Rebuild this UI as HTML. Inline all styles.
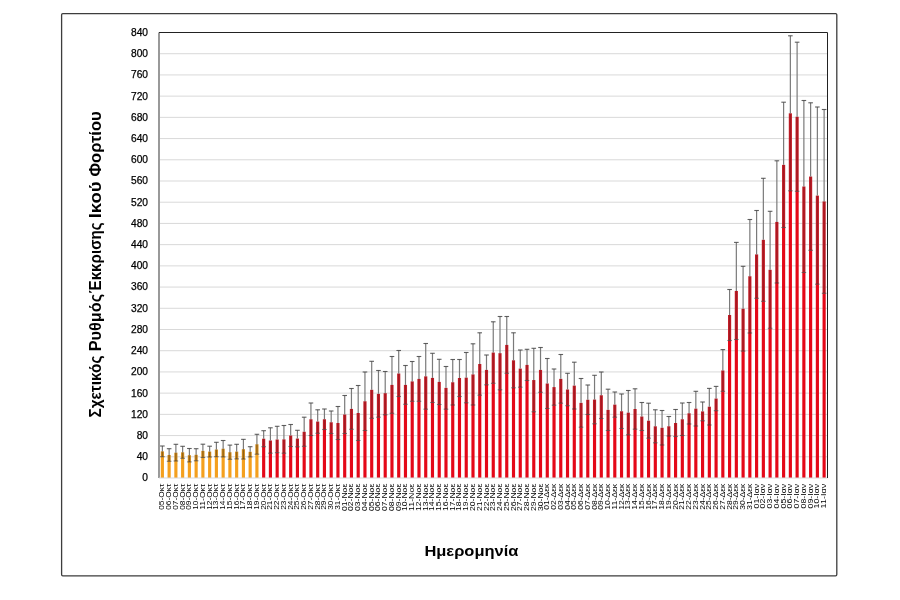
<!DOCTYPE html>
<html><head><meta charset="utf-8"><title>Chart</title><style>
html,body{margin:0;padding:0;background:#fff;}
body{width:900px;height:600px;position:relative;overflow:hidden;}
.yt{font-family:"Liberation Sans",sans-serif;font-size:10.2px;fill:#000;stroke:#000;stroke-width:0.25px;text-anchor:end;}
.xt{font-family:"Liberation Sans",sans-serif;font-size:7.6px;fill:#000;text-anchor:end;}
.tw{font-family:"Liberation Sans",sans-serif;font-size:16px;font-weight:bold;fill:#000;}
.tt{font-family:"Liberation Sans",sans-serif;font-size:15px;font-weight:bold;fill:#000;text-anchor:middle;}
.el{stroke:#7a7a7a;stroke-width:1.2;}
.ei{stroke:#000;stroke-opacity:0.3;stroke-width:1.2;}
.er{stroke:#000;stroke-opacity:0.16;stroke-width:1.2;}
.ec{stroke:#444;stroke-opacity:0.85;stroke-width:1.1;}
.eb{stroke:#333;stroke-opacity:0.6;stroke-width:1.1;}
</style></head><body>
<svg width="900" height="600" viewBox="0 0 900 600" style="position:absolute;left:0;top:0;will-change:transform">
<rect x="0" y="0" width="900" height="600" fill="#fff"/>
<rect x="61.6" y="13.6" width="775.2" height="562.2" rx="1.2" fill="none" stroke="#3d3d3d" stroke-width="1.3"/>
<line x1="160" x2="827.50" y1="456.79" y2="456.79" stroke="#d9d9d9" stroke-width="1"/>
<line x1="160" x2="827.50" y1="435.57" y2="435.57" stroke="#d9d9d9" stroke-width="1"/>
<line x1="160" x2="827.50" y1="414.36" y2="414.36" stroke="#d9d9d9" stroke-width="1"/>
<line x1="160" x2="827.50" y1="393.14" y2="393.14" stroke="#d9d9d9" stroke-width="1"/>
<line x1="160" x2="827.50" y1="371.93" y2="371.93" stroke="#d9d9d9" stroke-width="1"/>
<line x1="160" x2="827.50" y1="350.71" y2="350.71" stroke="#d9d9d9" stroke-width="1"/>
<line x1="160" x2="827.50" y1="329.50" y2="329.50" stroke="#d9d9d9" stroke-width="1"/>
<line x1="160" x2="827.50" y1="308.29" y2="308.29" stroke="#d9d9d9" stroke-width="1"/>
<line x1="160" x2="827.50" y1="287.07" y2="287.07" stroke="#d9d9d9" stroke-width="1"/>
<line x1="160" x2="827.50" y1="265.86" y2="265.86" stroke="#d9d9d9" stroke-width="1"/>
<line x1="160" x2="827.50" y1="244.64" y2="244.64" stroke="#d9d9d9" stroke-width="1"/>
<line x1="160" x2="827.50" y1="223.43" y2="223.43" stroke="#d9d9d9" stroke-width="1"/>
<line x1="160" x2="827.50" y1="202.21" y2="202.21" stroke="#d9d9d9" stroke-width="1"/>
<line x1="160" x2="827.50" y1="181.00" y2="181.00" stroke="#d9d9d9" stroke-width="1"/>
<line x1="160" x2="827.50" y1="159.79" y2="159.79" stroke="#d9d9d9" stroke-width="1"/>
<line x1="160" x2="827.50" y1="138.57" y2="138.57" stroke="#d9d9d9" stroke-width="1"/>
<line x1="160" x2="827.50" y1="117.36" y2="117.36" stroke="#d9d9d9" stroke-width="1"/>
<line x1="160" x2="827.50" y1="96.14" y2="96.14" stroke="#d9d9d9" stroke-width="1"/>
<line x1="160" x2="827.50" y1="74.93" y2="74.93" stroke="#d9d9d9" stroke-width="1"/>
<line x1="160" x2="827.50" y1="53.71" y2="53.71" stroke="#d9d9d9" stroke-width="1"/>
<text x="148" y="481.40" class="yt">0</text>
<text x="148" y="460.19" class="yt">40</text>
<text x="148" y="438.97" class="yt">80</text>
<text x="148" y="417.76" class="yt">120</text>
<text x="148" y="396.54" class="yt">160</text>
<text x="148" y="375.33" class="yt">200</text>
<text x="148" y="354.11" class="yt">240</text>
<text x="148" y="332.90" class="yt">280</text>
<text x="148" y="311.69" class="yt">320</text>
<text x="148" y="290.47" class="yt">360</text>
<text x="148" y="269.26" class="yt">400</text>
<text x="148" y="248.04" class="yt">440</text>
<text x="148" y="226.83" class="yt">480</text>
<text x="148" y="205.61" class="yt">520</text>
<text x="148" y="184.40" class="yt">560</text>
<text x="148" y="163.19" class="yt">600</text>
<text x="148" y="141.97" class="yt">640</text>
<text x="148" y="120.76" class="yt">680</text>
<text x="148" y="99.54" class="yt">720</text>
<text x="148" y="78.33" class="yt">760</text>
<text x="148" y="57.11" class="yt">800</text>
<text x="148" y="35.90" class="yt">840</text>
<rect x="160.80" y="456.70" width="3.15" height="21.30" fill="#F4A01E"/>
<rect x="160.80" y="451.35" width="3.15" height="5.35" fill="#D08A1C"/>
<rect x="167.55" y="461.30" width="3.15" height="16.70" fill="#F4A01E"/>
<rect x="167.55" y="455.00" width="3.15" height="6.30" fill="#D08A1C"/>
<rect x="174.31" y="461.00" width="3.15" height="17.00" fill="#F4A01E"/>
<rect x="174.31" y="452.65" width="3.15" height="8.35" fill="#D08A1C"/>
<rect x="181.06" y="458.30" width="3.15" height="19.70" fill="#F4A01E"/>
<rect x="181.06" y="452.30" width="3.15" height="6.00" fill="#D08A1C"/>
<rect x="187.81" y="461.90" width="3.15" height="16.10" fill="#F4A01E"/>
<rect x="187.81" y="455.20" width="3.15" height="6.70" fill="#D08A1C"/>
<rect x="194.56" y="460.80" width="3.15" height="17.20" fill="#F4A01E"/>
<rect x="194.56" y="454.75" width="3.15" height="6.05" fill="#D08A1C"/>
<rect x="201.32" y="457.50" width="3.15" height="20.50" fill="#F4A01E"/>
<rect x="201.32" y="450.85" width="3.15" height="6.65" fill="#D08A1C"/>
<rect x="208.07" y="457.00" width="3.15" height="21.00" fill="#F4A01E"/>
<rect x="208.07" y="451.60" width="3.15" height="5.40" fill="#D08A1C"/>
<rect x="214.82" y="456.70" width="3.15" height="21.30" fill="#F4A01E"/>
<rect x="214.82" y="449.50" width="3.15" height="7.20" fill="#D08A1C"/>
<rect x="221.57" y="456.90" width="3.15" height="21.10" fill="#F4A01E"/>
<rect x="221.57" y="448.70" width="3.15" height="8.20" fill="#D08A1C"/>
<rect x="228.33" y="459.30" width="3.15" height="18.70" fill="#F4A01E"/>
<rect x="228.33" y="452.20" width="3.15" height="7.10" fill="#D08A1C"/>
<rect x="235.08" y="458.90" width="3.15" height="19.10" fill="#F4A01E"/>
<rect x="235.08" y="451.60" width="3.15" height="7.30" fill="#D08A1C"/>
<rect x="241.83" y="459.05" width="3.15" height="18.95" fill="#F4A01E"/>
<rect x="241.83" y="449.20" width="3.15" height="9.85" fill="#D08A1C"/>
<rect x="248.58" y="456.90" width="3.15" height="21.10" fill="#F4A01E"/>
<rect x="248.58" y="451.80" width="3.15" height="5.10" fill="#D08A1C"/>
<rect x="255.34" y="454.20" width="3.15" height="23.80" fill="#F4A01E"/>
<rect x="255.34" y="444.25" width="3.15" height="9.95" fill="#D08A1C"/>
<rect x="262.09" y="446.70" width="3.15" height="31.30" fill="#E40818"/>
<rect x="262.09" y="438.70" width="3.15" height="8.00" fill="#C21D27"/>
<rect x="268.84" y="453.20" width="3.15" height="24.80" fill="#E40818"/>
<rect x="268.84" y="440.50" width="3.15" height="12.70" fill="#C21D27"/>
<rect x="275.59" y="452.70" width="3.15" height="25.30" fill="#E40818"/>
<rect x="275.59" y="439.50" width="3.15" height="13.20" fill="#C21D27"/>
<rect x="282.35" y="453.20" width="3.15" height="24.80" fill="#E40818"/>
<rect x="282.35" y="439.35" width="3.15" height="13.85" fill="#C21D27"/>
<rect x="289.10" y="446.50" width="3.15" height="31.50" fill="#E40818"/>
<rect x="289.10" y="435.50" width="3.15" height="11.00" fill="#C21D27"/>
<rect x="295.85" y="446.80" width="3.15" height="31.20" fill="#E40818"/>
<rect x="295.85" y="438.55" width="3.15" height="8.25" fill="#C21D27"/>
<rect x="302.60" y="446.30" width="3.15" height="31.70" fill="#E40818"/>
<rect x="302.60" y="431.75" width="3.15" height="14.55" fill="#C21D27"/>
<rect x="309.36" y="435.50" width="3.15" height="42.50" fill="#E40818"/>
<rect x="309.36" y="419.25" width="3.15" height="16.25" fill="#C21D27"/>
<rect x="316.11" y="433.30" width="3.15" height="44.70" fill="#E40818"/>
<rect x="316.11" y="421.55" width="3.15" height="11.75" fill="#C21D27"/>
<rect x="322.86" y="429.50" width="3.15" height="48.50" fill="#E40818"/>
<rect x="322.86" y="419.25" width="3.15" height="10.25" fill="#C21D27"/>
<rect x="329.61" y="433.50" width="3.15" height="44.50" fill="#E40818"/>
<rect x="329.61" y="422.25" width="3.15" height="11.25" fill="#C21D27"/>
<rect x="336.37" y="439.50" width="3.15" height="38.50" fill="#E40818"/>
<rect x="336.37" y="423.00" width="3.15" height="16.50" fill="#C21D27"/>
<rect x="343.12" y="433.50" width="3.15" height="44.50" fill="#E40818"/>
<rect x="343.12" y="414.50" width="3.15" height="19.00" fill="#C21D27"/>
<rect x="349.87" y="429.30" width="3.15" height="48.70" fill="#E40818"/>
<rect x="349.87" y="408.90" width="3.15" height="20.40" fill="#C21D27"/>
<rect x="356.62" y="440.50" width="3.15" height="37.50" fill="#E40818"/>
<rect x="356.62" y="413.00" width="3.15" height="27.50" fill="#C21D27"/>
<rect x="363.38" y="430.50" width="3.15" height="47.50" fill="#E40818"/>
<rect x="363.38" y="401.25" width="3.15" height="29.25" fill="#C21D27"/>
<rect x="370.13" y="418.30" width="3.15" height="59.70" fill="#E40818"/>
<rect x="370.13" y="389.80" width="3.15" height="28.50" fill="#C21D27"/>
<rect x="376.88" y="417.20" width="3.15" height="60.80" fill="#E40818"/>
<rect x="376.88" y="393.85" width="3.15" height="23.35" fill="#C21D27"/>
<rect x="383.63" y="414.80" width="3.15" height="63.20" fill="#E40818"/>
<rect x="383.63" y="393.15" width="3.15" height="21.65" fill="#C21D27"/>
<rect x="390.39" y="413.30" width="3.15" height="64.70" fill="#E40818"/>
<rect x="390.39" y="384.90" width="3.15" height="28.40" fill="#C21D27"/>
<rect x="397.14" y="396.50" width="3.15" height="81.50" fill="#E40818"/>
<rect x="397.14" y="373.50" width="3.15" height="23.00" fill="#C21D27"/>
<rect x="403.89" y="404.30" width="3.15" height="73.70" fill="#E40818"/>
<rect x="403.89" y="384.90" width="3.15" height="19.40" fill="#C21D27"/>
<rect x="410.64" y="401.30" width="3.15" height="76.70" fill="#E40818"/>
<rect x="410.64" y="381.40" width="3.15" height="19.90" fill="#C21D27"/>
<rect x="417.40" y="401.30" width="3.15" height="76.70" fill="#E40818"/>
<rect x="417.40" y="378.90" width="3.15" height="22.40" fill="#C21D27"/>
<rect x="424.15" y="409.20" width="3.15" height="68.80" fill="#E40818"/>
<rect x="424.15" y="376.35" width="3.15" height="32.85" fill="#C21D27"/>
<rect x="430.90" y="402.50" width="3.15" height="75.50" fill="#E40818"/>
<rect x="430.90" y="377.90" width="3.15" height="24.60" fill="#C21D27"/>
<rect x="437.65" y="404.50" width="3.15" height="73.50" fill="#E40818"/>
<rect x="437.65" y="381.90" width="3.15" height="22.60" fill="#C21D27"/>
<rect x="444.41" y="409.20" width="3.15" height="68.80" fill="#E40818"/>
<rect x="444.41" y="387.85" width="3.15" height="21.35" fill="#C21D27"/>
<rect x="451.16" y="405.00" width="3.15" height="73.00" fill="#E40818"/>
<rect x="451.16" y="382.25" width="3.15" height="22.75" fill="#C21D27"/>
<rect x="457.91" y="396.50" width="3.15" height="81.50" fill="#E40818"/>
<rect x="457.91" y="378.00" width="3.15" height="18.50" fill="#C21D27"/>
<rect x="464.66" y="402.80" width="3.15" height="75.20" fill="#E40818"/>
<rect x="464.66" y="377.65" width="3.15" height="25.15" fill="#C21D27"/>
<rect x="471.42" y="405.00" width="3.15" height="73.00" fill="#E40818"/>
<rect x="471.42" y="374.40" width="3.15" height="30.60" fill="#C21D27"/>
<rect x="478.17" y="395.20" width="3.15" height="82.80" fill="#E40818"/>
<rect x="478.17" y="364.00" width="3.15" height="31.20" fill="#C21D27"/>
<rect x="484.92" y="384.80" width="3.15" height="93.20" fill="#E40818"/>
<rect x="484.92" y="369.90" width="3.15" height="14.90" fill="#C21D27"/>
<rect x="491.68" y="383.30" width="3.15" height="94.70" fill="#E40818"/>
<rect x="491.68" y="352.55" width="3.15" height="30.75" fill="#C21D27"/>
<rect x="498.43" y="389.80" width="3.15" height="88.20" fill="#E40818"/>
<rect x="498.43" y="353.15" width="3.15" height="36.65" fill="#C21D27"/>
<rect x="505.18" y="373.30" width="3.15" height="104.70" fill="#E40818"/>
<rect x="505.18" y="344.90" width="3.15" height="28.40" fill="#C21D27"/>
<rect x="511.93" y="387.80" width="3.15" height="90.20" fill="#E40818"/>
<rect x="511.93" y="360.30" width="3.15" height="27.50" fill="#C21D27"/>
<rect x="518.69" y="387.20" width="3.15" height="90.80" fill="#E40818"/>
<rect x="518.69" y="368.60" width="3.15" height="18.60" fill="#C21D27"/>
<rect x="525.44" y="380.50" width="3.15" height="97.50" fill="#E40818"/>
<rect x="525.44" y="364.90" width="3.15" height="15.60" fill="#C21D27"/>
<rect x="532.19" y="411.80" width="3.15" height="66.20" fill="#E40818"/>
<rect x="532.19" y="380.05" width="3.15" height="31.75" fill="#C21D27"/>
<rect x="538.94" y="392.30" width="3.15" height="85.70" fill="#E40818"/>
<rect x="538.94" y="369.90" width="3.15" height="22.40" fill="#C21D27"/>
<rect x="545.70" y="408.50" width="3.15" height="69.50" fill="#E40818"/>
<rect x="545.70" y="383.50" width="3.15" height="25.00" fill="#C21D27"/>
<rect x="552.45" y="405.20" width="3.15" height="72.80" fill="#E40818"/>
<rect x="552.45" y="387.10" width="3.15" height="18.10" fill="#C21D27"/>
<rect x="559.20" y="403.20" width="3.15" height="74.80" fill="#E40818"/>
<rect x="559.20" y="378.85" width="3.15" height="24.35" fill="#C21D27"/>
<rect x="565.95" y="405.70" width="3.15" height="72.30" fill="#E40818"/>
<rect x="565.95" y="389.50" width="3.15" height="16.20" fill="#C21D27"/>
<rect x="572.71" y="409.00" width="3.15" height="69.00" fill="#E40818"/>
<rect x="572.71" y="385.60" width="3.15" height="23.40" fill="#C21D27"/>
<rect x="579.46" y="427.20" width="3.15" height="50.80" fill="#E40818"/>
<rect x="579.46" y="402.85" width="3.15" height="24.35" fill="#C21D27"/>
<rect x="586.21" y="414.50" width="3.15" height="63.50" fill="#E40818"/>
<rect x="586.21" y="399.75" width="3.15" height="14.75" fill="#C21D27"/>
<rect x="592.96" y="423.80" width="3.15" height="54.20" fill="#E40818"/>
<rect x="592.96" y="399.55" width="3.15" height="24.25" fill="#C21D27"/>
<rect x="599.72" y="418.50" width="3.15" height="59.50" fill="#E40818"/>
<rect x="599.72" y="395.25" width="3.15" height="23.25" fill="#C21D27"/>
<rect x="606.47" y="430.50" width="3.15" height="47.50" fill="#E40818"/>
<rect x="606.47" y="409.85" width="3.15" height="20.65" fill="#C21D27"/>
<rect x="613.22" y="417.20" width="3.15" height="60.80" fill="#E40818"/>
<rect x="613.22" y="404.60" width="3.15" height="12.60" fill="#C21D27"/>
<rect x="619.97" y="428.50" width="3.15" height="49.50" fill="#E40818"/>
<rect x="619.97" y="411.25" width="3.15" height="17.25" fill="#C21D27"/>
<rect x="626.73" y="434.80" width="3.15" height="43.20" fill="#E40818"/>
<rect x="626.73" y="412.65" width="3.15" height="22.15" fill="#C21D27"/>
<rect x="633.48" y="429.20" width="3.15" height="48.80" fill="#E40818"/>
<rect x="633.48" y="409.00" width="3.15" height="20.20" fill="#C21D27"/>
<rect x="640.23" y="430.50" width="3.15" height="47.50" fill="#E40818"/>
<rect x="640.23" y="416.50" width="3.15" height="14.00" fill="#C21D27"/>
<rect x="646.98" y="438.20" width="3.15" height="39.80" fill="#E40818"/>
<rect x="646.98" y="420.70" width="3.15" height="17.50" fill="#C21D27"/>
<rect x="653.74" y="442.80" width="3.15" height="35.20" fill="#E40818"/>
<rect x="653.74" y="426.30" width="3.15" height="16.50" fill="#C21D27"/>
<rect x="660.49" y="445.00" width="3.15" height="33.00" fill="#E40818"/>
<rect x="660.49" y="427.75" width="3.15" height="17.25" fill="#C21D27"/>
<rect x="667.24" y="436.00" width="3.15" height="42.00" fill="#E40818"/>
<rect x="667.24" y="426.25" width="3.15" height="9.75" fill="#C21D27"/>
<rect x="673.99" y="436.50" width="3.15" height="41.50" fill="#E40818"/>
<rect x="673.99" y="423.00" width="3.15" height="13.50" fill="#C21D27"/>
<rect x="680.75" y="435.50" width="3.15" height="42.50" fill="#E40818"/>
<rect x="680.75" y="419.25" width="3.15" height="16.25" fill="#C21D27"/>
<rect x="687.50" y="424.00" width="3.15" height="54.00" fill="#E40818"/>
<rect x="687.50" y="413.25" width="3.15" height="10.75" fill="#C21D27"/>
<rect x="694.25" y="426.00" width="3.15" height="52.00" fill="#E40818"/>
<rect x="694.25" y="408.65" width="3.15" height="17.35" fill="#C21D27"/>
<rect x="701.00" y="420.80" width="3.15" height="57.20" fill="#E40818"/>
<rect x="701.00" y="411.40" width="3.15" height="9.40" fill="#C21D27"/>
<rect x="707.76" y="425.00" width="3.15" height="53.00" fill="#E40818"/>
<rect x="707.76" y="406.70" width="3.15" height="18.30" fill="#C21D27"/>
<rect x="714.51" y="410.70" width="3.15" height="67.30" fill="#E40818"/>
<rect x="714.51" y="398.55" width="3.15" height="12.15" fill="#C21D27"/>
<rect x="721.26" y="391.30" width="3.15" height="86.70" fill="#E40818"/>
<rect x="721.26" y="370.45" width="3.15" height="20.85" fill="#C21D27"/>
<rect x="728.01" y="340.50" width="3.15" height="137.50" fill="#E40818"/>
<rect x="728.01" y="315.00" width="3.15" height="25.50" fill="#C21D27"/>
<rect x="734.77" y="339.50" width="3.15" height="138.50" fill="#E40818"/>
<rect x="734.77" y="290.95" width="3.15" height="48.55" fill="#C21D27"/>
<rect x="741.52" y="351.10" width="3.15" height="126.90" fill="#E40818"/>
<rect x="741.52" y="308.70" width="3.15" height="42.40" fill="#C21D27"/>
<rect x="748.27" y="333.00" width="3.15" height="145.00" fill="#E40818"/>
<rect x="748.27" y="276.25" width="3.15" height="56.75" fill="#C21D27"/>
<rect x="755.02" y="298.30" width="3.15" height="179.70" fill="#E40818"/>
<rect x="755.02" y="254.40" width="3.15" height="43.90" fill="#C21D27"/>
<rect x="761.78" y="301.30" width="3.15" height="176.70" fill="#E40818"/>
<rect x="761.78" y="239.80" width="3.15" height="61.50" fill="#C21D27"/>
<rect x="768.53" y="328.30" width="3.15" height="149.70" fill="#E40818"/>
<rect x="768.53" y="269.80" width="3.15" height="58.50" fill="#C21D27"/>
<rect x="775.28" y="283.00" width="3.15" height="195.00" fill="#E40818"/>
<rect x="775.28" y="221.90" width="3.15" height="61.10" fill="#C21D27"/>
<rect x="782.03" y="227.50" width="3.15" height="250.50" fill="#E40818"/>
<rect x="782.03" y="164.85" width="3.15" height="62.65" fill="#C21D27"/>
<rect x="788.79" y="190.80" width="3.15" height="287.20" fill="#E40818"/>
<rect x="788.79" y="113.30" width="3.15" height="77.50" fill="#C21D27"/>
<rect x="795.54" y="191.30" width="3.15" height="286.70" fill="#E40818"/>
<rect x="795.54" y="116.75" width="3.15" height="74.55" fill="#C21D27"/>
<rect x="802.29" y="272.50" width="3.15" height="205.50" fill="#E40818"/>
<rect x="802.29" y="186.50" width="3.15" height="86.00" fill="#C21D27"/>
<rect x="809.04" y="250.30" width="3.15" height="227.70" fill="#E40818"/>
<rect x="809.04" y="176.55" width="3.15" height="73.75" fill="#C21D27"/>
<rect x="815.80" y="284.20" width="3.15" height="193.80" fill="#E40818"/>
<rect x="815.80" y="195.60" width="3.15" height="88.60" fill="#C21D27"/>
<rect x="822.55" y="293.30" width="3.15" height="184.70" fill="#E40818"/>
<rect x="822.55" y="201.40" width="3.15" height="91.90" fill="#C21D27"/>
<line x1="162.38" x2="162.38" y1="446.00" y2="451.35" class="el"/>
<line x1="162.38" x2="162.38" y1="451.35" y2="456.70" class="ei"/>
<line x1="160.08" x2="164.68" y1="446.00" y2="446.00" class="ec"/>
<line x1="160.08" x2="164.68" y1="456.70" y2="456.70" class="eb"/>
<line x1="169.13" x2="169.13" y1="448.70" y2="455.00" class="el"/>
<line x1="169.13" x2="169.13" y1="455.00" y2="461.30" class="ei"/>
<line x1="166.83" x2="171.43" y1="448.70" y2="448.70" class="ec"/>
<line x1="166.83" x2="171.43" y1="461.30" y2="461.30" class="eb"/>
<line x1="175.88" x2="175.88" y1="444.30" y2="452.65" class="el"/>
<line x1="175.88" x2="175.88" y1="452.65" y2="461.00" class="ei"/>
<line x1="173.58" x2="178.18" y1="444.30" y2="444.30" class="ec"/>
<line x1="173.58" x2="178.18" y1="461.00" y2="461.00" class="eb"/>
<line x1="182.63" x2="182.63" y1="446.30" y2="452.30" class="el"/>
<line x1="182.63" x2="182.63" y1="452.30" y2="458.30" class="ei"/>
<line x1="180.33" x2="184.93" y1="446.30" y2="446.30" class="ec"/>
<line x1="180.33" x2="184.93" y1="458.30" y2="458.30" class="eb"/>
<line x1="189.39" x2="189.39" y1="448.50" y2="455.20" class="el"/>
<line x1="189.39" x2="189.39" y1="455.20" y2="461.90" class="ei"/>
<line x1="187.09" x2="191.69" y1="448.50" y2="448.50" class="ec"/>
<line x1="187.09" x2="191.69" y1="461.90" y2="461.90" class="eb"/>
<line x1="196.14" x2="196.14" y1="448.70" y2="454.75" class="el"/>
<line x1="196.14" x2="196.14" y1="454.75" y2="460.80" class="ei"/>
<line x1="193.84" x2="198.44" y1="448.70" y2="448.70" class="ec"/>
<line x1="193.84" x2="198.44" y1="460.80" y2="460.80" class="eb"/>
<line x1="202.89" x2="202.89" y1="444.20" y2="450.85" class="el"/>
<line x1="202.89" x2="202.89" y1="450.85" y2="457.50" class="ei"/>
<line x1="200.59" x2="205.19" y1="444.20" y2="444.20" class="ec"/>
<line x1="200.59" x2="205.19" y1="457.50" y2="457.50" class="eb"/>
<line x1="209.64" x2="209.64" y1="446.20" y2="451.60" class="el"/>
<line x1="209.64" x2="209.64" y1="451.60" y2="457.00" class="ei"/>
<line x1="207.34" x2="211.94" y1="446.20" y2="446.20" class="ec"/>
<line x1="207.34" x2="211.94" y1="457.00" y2="457.00" class="eb"/>
<line x1="216.40" x2="216.40" y1="442.30" y2="449.50" class="el"/>
<line x1="216.40" x2="216.40" y1="449.50" y2="456.70" class="ei"/>
<line x1="214.10" x2="218.70" y1="442.30" y2="442.30" class="ec"/>
<line x1="214.10" x2="218.70" y1="456.70" y2="456.70" class="eb"/>
<line x1="223.15" x2="223.15" y1="440.50" y2="448.70" class="el"/>
<line x1="223.15" x2="223.15" y1="448.70" y2="456.90" class="ei"/>
<line x1="220.85" x2="225.45" y1="440.50" y2="440.50" class="ec"/>
<line x1="220.85" x2="225.45" y1="456.90" y2="456.90" class="eb"/>
<line x1="229.90" x2="229.90" y1="445.10" y2="452.20" class="el"/>
<line x1="229.90" x2="229.90" y1="452.20" y2="459.30" class="ei"/>
<line x1="227.60" x2="232.20" y1="445.10" y2="445.10" class="ec"/>
<line x1="227.60" x2="232.20" y1="459.30" y2="459.30" class="eb"/>
<line x1="236.65" x2="236.65" y1="444.30" y2="451.60" class="el"/>
<line x1="236.65" x2="236.65" y1="451.60" y2="458.90" class="ei"/>
<line x1="234.35" x2="238.95" y1="444.30" y2="444.30" class="ec"/>
<line x1="234.35" x2="238.95" y1="458.90" y2="458.90" class="eb"/>
<line x1="243.41" x2="243.41" y1="439.35" y2="449.20" class="el"/>
<line x1="243.41" x2="243.41" y1="449.20" y2="459.05" class="ei"/>
<line x1="241.11" x2="245.71" y1="439.35" y2="439.35" class="ec"/>
<line x1="241.11" x2="245.71" y1="459.05" y2="459.05" class="eb"/>
<line x1="250.16" x2="250.16" y1="446.70" y2="451.80" class="el"/>
<line x1="250.16" x2="250.16" y1="451.80" y2="456.90" class="ei"/>
<line x1="247.86" x2="252.46" y1="446.70" y2="446.70" class="ec"/>
<line x1="247.86" x2="252.46" y1="456.90" y2="456.90" class="eb"/>
<line x1="256.91" x2="256.91" y1="434.30" y2="444.25" class="el"/>
<line x1="256.91" x2="256.91" y1="444.25" y2="454.20" class="ei"/>
<line x1="254.61" x2="259.21" y1="434.30" y2="434.30" class="ec"/>
<line x1="254.61" x2="259.21" y1="454.20" y2="454.20" class="eb"/>
<line x1="263.66" x2="263.66" y1="430.70" y2="438.70" class="el"/>
<line x1="263.66" x2="263.66" y1="438.70" y2="446.70" class="er"/>
<line x1="261.36" x2="265.96" y1="430.70" y2="430.70" class="ec"/>
<line x1="261.36" x2="265.96" y1="446.70" y2="446.70" class="eb"/>
<line x1="270.42" x2="270.42" y1="427.80" y2="440.50" class="el"/>
<line x1="270.42" x2="270.42" y1="440.50" y2="453.20" class="er"/>
<line x1="268.12" x2="272.72" y1="427.80" y2="427.80" class="ec"/>
<line x1="268.12" x2="272.72" y1="453.20" y2="453.20" class="eb"/>
<line x1="277.17" x2="277.17" y1="426.30" y2="439.50" class="el"/>
<line x1="277.17" x2="277.17" y1="439.50" y2="452.70" class="er"/>
<line x1="274.87" x2="279.47" y1="426.30" y2="426.30" class="ec"/>
<line x1="274.87" x2="279.47" y1="452.70" y2="452.70" class="eb"/>
<line x1="283.92" x2="283.92" y1="425.50" y2="439.35" class="el"/>
<line x1="283.92" x2="283.92" y1="439.35" y2="453.20" class="er"/>
<line x1="281.62" x2="286.22" y1="425.50" y2="425.50" class="ec"/>
<line x1="281.62" x2="286.22" y1="453.20" y2="453.20" class="eb"/>
<line x1="290.67" x2="290.67" y1="424.50" y2="435.50" class="el"/>
<line x1="290.67" x2="290.67" y1="435.50" y2="446.50" class="er"/>
<line x1="288.37" x2="292.97" y1="424.50" y2="424.50" class="ec"/>
<line x1="288.37" x2="292.97" y1="446.50" y2="446.50" class="eb"/>
<line x1="297.43" x2="297.43" y1="430.30" y2="438.55" class="el"/>
<line x1="297.43" x2="297.43" y1="438.55" y2="446.80" class="er"/>
<line x1="295.13" x2="299.73" y1="430.30" y2="430.30" class="ec"/>
<line x1="295.13" x2="299.73" y1="446.80" y2="446.80" class="eb"/>
<line x1="304.18" x2="304.18" y1="417.20" y2="431.75" class="el"/>
<line x1="304.18" x2="304.18" y1="431.75" y2="446.30" class="er"/>
<line x1="301.88" x2="306.48" y1="417.20" y2="417.20" class="ec"/>
<line x1="301.88" x2="306.48" y1="446.30" y2="446.30" class="eb"/>
<line x1="310.93" x2="310.93" y1="403.00" y2="419.25" class="el"/>
<line x1="310.93" x2="310.93" y1="419.25" y2="435.50" class="er"/>
<line x1="308.63" x2="313.23" y1="403.00" y2="403.00" class="ec"/>
<line x1="308.63" x2="313.23" y1="435.50" y2="435.50" class="eb"/>
<line x1="317.68" x2="317.68" y1="409.80" y2="421.55" class="el"/>
<line x1="317.68" x2="317.68" y1="421.55" y2="433.30" class="er"/>
<line x1="315.38" x2="319.98" y1="409.80" y2="409.80" class="ec"/>
<line x1="315.38" x2="319.98" y1="433.30" y2="433.30" class="eb"/>
<line x1="324.44" x2="324.44" y1="409.00" y2="419.25" class="el"/>
<line x1="324.44" x2="324.44" y1="419.25" y2="429.50" class="er"/>
<line x1="322.14" x2="326.74" y1="409.00" y2="409.00" class="ec"/>
<line x1="322.14" x2="326.74" y1="429.50" y2="429.50" class="eb"/>
<line x1="331.19" x2="331.19" y1="411.00" y2="422.25" class="el"/>
<line x1="331.19" x2="331.19" y1="422.25" y2="433.50" class="er"/>
<line x1="328.89" x2="333.49" y1="411.00" y2="411.00" class="ec"/>
<line x1="328.89" x2="333.49" y1="433.50" y2="433.50" class="eb"/>
<line x1="337.94" x2="337.94" y1="406.50" y2="423.00" class="el"/>
<line x1="337.94" x2="337.94" y1="423.00" y2="439.50" class="er"/>
<line x1="335.64" x2="340.24" y1="406.50" y2="406.50" class="ec"/>
<line x1="335.64" x2="340.24" y1="439.50" y2="439.50" class="eb"/>
<line x1="344.69" x2="344.69" y1="395.50" y2="414.50" class="el"/>
<line x1="344.69" x2="344.69" y1="414.50" y2="433.50" class="er"/>
<line x1="342.39" x2="346.99" y1="395.50" y2="395.50" class="ec"/>
<line x1="342.39" x2="346.99" y1="433.50" y2="433.50" class="eb"/>
<line x1="351.45" x2="351.45" y1="388.50" y2="408.90" class="el"/>
<line x1="351.45" x2="351.45" y1="408.90" y2="429.30" class="er"/>
<line x1="349.15" x2="353.75" y1="388.50" y2="388.50" class="ec"/>
<line x1="349.15" x2="353.75" y1="429.30" y2="429.30" class="eb"/>
<line x1="358.20" x2="358.20" y1="385.50" y2="413.00" class="el"/>
<line x1="358.20" x2="358.20" y1="413.00" y2="440.50" class="er"/>
<line x1="355.90" x2="360.50" y1="385.50" y2="385.50" class="ec"/>
<line x1="355.90" x2="360.50" y1="440.50" y2="440.50" class="eb"/>
<line x1="364.95" x2="364.95" y1="372.00" y2="401.25" class="el"/>
<line x1="364.95" x2="364.95" y1="401.25" y2="430.50" class="er"/>
<line x1="362.65" x2="367.25" y1="372.00" y2="372.00" class="ec"/>
<line x1="362.65" x2="367.25" y1="430.50" y2="430.50" class="eb"/>
<line x1="371.70" x2="371.70" y1="361.30" y2="389.80" class="el"/>
<line x1="371.70" x2="371.70" y1="389.80" y2="418.30" class="er"/>
<line x1="369.40" x2="374.00" y1="361.30" y2="361.30" class="ec"/>
<line x1="369.40" x2="374.00" y1="418.30" y2="418.30" class="eb"/>
<line x1="378.46" x2="378.46" y1="370.50" y2="393.85" class="el"/>
<line x1="378.46" x2="378.46" y1="393.85" y2="417.20" class="er"/>
<line x1="376.16" x2="380.76" y1="370.50" y2="370.50" class="ec"/>
<line x1="376.16" x2="380.76" y1="417.20" y2="417.20" class="eb"/>
<line x1="385.21" x2="385.21" y1="371.50" y2="393.15" class="el"/>
<line x1="385.21" x2="385.21" y1="393.15" y2="414.80" class="er"/>
<line x1="382.91" x2="387.51" y1="371.50" y2="371.50" class="ec"/>
<line x1="382.91" x2="387.51" y1="414.80" y2="414.80" class="eb"/>
<line x1="391.96" x2="391.96" y1="356.50" y2="384.90" class="el"/>
<line x1="391.96" x2="391.96" y1="384.90" y2="413.30" class="er"/>
<line x1="389.66" x2="394.26" y1="356.50" y2="356.50" class="ec"/>
<line x1="389.66" x2="394.26" y1="413.30" y2="413.30" class="eb"/>
<line x1="398.71" x2="398.71" y1="350.50" y2="373.50" class="el"/>
<line x1="398.71" x2="398.71" y1="373.50" y2="396.50" class="er"/>
<line x1="396.41" x2="401.01" y1="350.50" y2="350.50" class="ec"/>
<line x1="396.41" x2="401.01" y1="396.50" y2="396.50" class="eb"/>
<line x1="405.47" x2="405.47" y1="365.50" y2="384.90" class="el"/>
<line x1="405.47" x2="405.47" y1="384.90" y2="404.30" class="er"/>
<line x1="403.17" x2="407.77" y1="365.50" y2="365.50" class="ec"/>
<line x1="403.17" x2="407.77" y1="404.30" y2="404.30" class="eb"/>
<line x1="412.22" x2="412.22" y1="361.50" y2="381.40" class="el"/>
<line x1="412.22" x2="412.22" y1="381.40" y2="401.30" class="er"/>
<line x1="409.92" x2="414.52" y1="361.50" y2="361.50" class="ec"/>
<line x1="409.92" x2="414.52" y1="401.30" y2="401.30" class="eb"/>
<line x1="418.97" x2="418.97" y1="356.50" y2="378.90" class="el"/>
<line x1="418.97" x2="418.97" y1="378.90" y2="401.30" class="er"/>
<line x1="416.67" x2="421.27" y1="356.50" y2="356.50" class="ec"/>
<line x1="416.67" x2="421.27" y1="401.30" y2="401.30" class="eb"/>
<line x1="425.72" x2="425.72" y1="343.50" y2="376.35" class="el"/>
<line x1="425.72" x2="425.72" y1="376.35" y2="409.20" class="er"/>
<line x1="423.42" x2="428.02" y1="343.50" y2="343.50" class="ec"/>
<line x1="423.42" x2="428.02" y1="409.20" y2="409.20" class="eb"/>
<line x1="432.48" x2="432.48" y1="353.30" y2="377.90" class="el"/>
<line x1="432.48" x2="432.48" y1="377.90" y2="402.50" class="er"/>
<line x1="430.18" x2="434.78" y1="353.30" y2="353.30" class="ec"/>
<line x1="430.18" x2="434.78" y1="402.50" y2="402.50" class="eb"/>
<line x1="439.23" x2="439.23" y1="359.30" y2="381.90" class="el"/>
<line x1="439.23" x2="439.23" y1="381.90" y2="404.50" class="er"/>
<line x1="436.93" x2="441.53" y1="359.30" y2="359.30" class="ec"/>
<line x1="436.93" x2="441.53" y1="404.50" y2="404.50" class="eb"/>
<line x1="445.98" x2="445.98" y1="366.50" y2="387.85" class="el"/>
<line x1="445.98" x2="445.98" y1="387.85" y2="409.20" class="er"/>
<line x1="443.68" x2="448.28" y1="366.50" y2="366.50" class="ec"/>
<line x1="443.68" x2="448.28" y1="409.20" y2="409.20" class="eb"/>
<line x1="452.73" x2="452.73" y1="359.50" y2="382.25" class="el"/>
<line x1="452.73" x2="452.73" y1="382.25" y2="405.00" class="er"/>
<line x1="450.43" x2="455.03" y1="359.50" y2="359.50" class="ec"/>
<line x1="450.43" x2="455.03" y1="405.00" y2="405.00" class="eb"/>
<line x1="459.49" x2="459.49" y1="359.50" y2="378.00" class="el"/>
<line x1="459.49" x2="459.49" y1="378.00" y2="396.50" class="er"/>
<line x1="457.19" x2="461.79" y1="359.50" y2="359.50" class="ec"/>
<line x1="457.19" x2="461.79" y1="396.50" y2="396.50" class="eb"/>
<line x1="466.24" x2="466.24" y1="352.50" y2="377.65" class="el"/>
<line x1="466.24" x2="466.24" y1="377.65" y2="402.80" class="er"/>
<line x1="463.94" x2="468.54" y1="352.50" y2="352.50" class="ec"/>
<line x1="463.94" x2="468.54" y1="402.80" y2="402.80" class="eb"/>
<line x1="472.99" x2="472.99" y1="343.80" y2="374.40" class="el"/>
<line x1="472.99" x2="472.99" y1="374.40" y2="405.00" class="er"/>
<line x1="470.69" x2="475.29" y1="343.80" y2="343.80" class="ec"/>
<line x1="470.69" x2="475.29" y1="405.00" y2="405.00" class="eb"/>
<line x1="479.74" x2="479.74" y1="332.80" y2="364.00" class="el"/>
<line x1="479.74" x2="479.74" y1="364.00" y2="395.20" class="er"/>
<line x1="477.44" x2="482.04" y1="332.80" y2="332.80" class="ec"/>
<line x1="477.44" x2="482.04" y1="395.20" y2="395.20" class="eb"/>
<line x1="486.50" x2="486.50" y1="355.00" y2="369.90" class="el"/>
<line x1="486.50" x2="486.50" y1="369.90" y2="384.80" class="er"/>
<line x1="484.20" x2="488.80" y1="355.00" y2="355.00" class="ec"/>
<line x1="484.20" x2="488.80" y1="384.80" y2="384.80" class="eb"/>
<line x1="493.25" x2="493.25" y1="321.80" y2="352.55" class="el"/>
<line x1="493.25" x2="493.25" y1="352.55" y2="383.30" class="er"/>
<line x1="490.95" x2="495.55" y1="321.80" y2="321.80" class="ec"/>
<line x1="490.95" x2="495.55" y1="383.30" y2="383.30" class="eb"/>
<line x1="500.00" x2="500.00" y1="316.50" y2="353.15" class="el"/>
<line x1="500.00" x2="500.00" y1="353.15" y2="389.80" class="er"/>
<line x1="497.70" x2="502.30" y1="316.50" y2="316.50" class="ec"/>
<line x1="497.70" x2="502.30" y1="389.80" y2="389.80" class="eb"/>
<line x1="506.76" x2="506.76" y1="316.50" y2="344.90" class="el"/>
<line x1="506.76" x2="506.76" y1="344.90" y2="373.30" class="er"/>
<line x1="504.46" x2="509.06" y1="316.50" y2="316.50" class="ec"/>
<line x1="504.46" x2="509.06" y1="373.30" y2="373.30" class="eb"/>
<line x1="513.51" x2="513.51" y1="332.80" y2="360.30" class="el"/>
<line x1="513.51" x2="513.51" y1="360.30" y2="387.80" class="er"/>
<line x1="511.21" x2="515.81" y1="332.80" y2="332.80" class="ec"/>
<line x1="511.21" x2="515.81" y1="387.80" y2="387.80" class="eb"/>
<line x1="520.26" x2="520.26" y1="350.00" y2="368.60" class="el"/>
<line x1="520.26" x2="520.26" y1="368.60" y2="387.20" class="er"/>
<line x1="517.96" x2="522.56" y1="350.00" y2="350.00" class="ec"/>
<line x1="517.96" x2="522.56" y1="387.20" y2="387.20" class="eb"/>
<line x1="527.01" x2="527.01" y1="349.30" y2="364.90" class="el"/>
<line x1="527.01" x2="527.01" y1="364.90" y2="380.50" class="er"/>
<line x1="524.71" x2="529.31" y1="349.30" y2="349.30" class="ec"/>
<line x1="524.71" x2="529.31" y1="380.50" y2="380.50" class="eb"/>
<line x1="533.77" x2="533.77" y1="348.30" y2="380.05" class="el"/>
<line x1="533.77" x2="533.77" y1="380.05" y2="411.80" class="er"/>
<line x1="531.47" x2="536.07" y1="348.30" y2="348.30" class="ec"/>
<line x1="531.47" x2="536.07" y1="411.80" y2="411.80" class="eb"/>
<line x1="540.52" x2="540.52" y1="347.50" y2="369.90" class="el"/>
<line x1="540.52" x2="540.52" y1="369.90" y2="392.30" class="er"/>
<line x1="538.22" x2="542.82" y1="347.50" y2="347.50" class="ec"/>
<line x1="538.22" x2="542.82" y1="392.30" y2="392.30" class="eb"/>
<line x1="547.27" x2="547.27" y1="358.50" y2="383.50" class="el"/>
<line x1="547.27" x2="547.27" y1="383.50" y2="408.50" class="er"/>
<line x1="544.97" x2="549.57" y1="358.50" y2="358.50" class="ec"/>
<line x1="544.97" x2="549.57" y1="408.50" y2="408.50" class="eb"/>
<line x1="554.02" x2="554.02" y1="369.00" y2="387.10" class="el"/>
<line x1="554.02" x2="554.02" y1="387.10" y2="405.20" class="er"/>
<line x1="551.72" x2="556.32" y1="369.00" y2="369.00" class="ec"/>
<line x1="551.72" x2="556.32" y1="405.20" y2="405.20" class="eb"/>
<line x1="560.78" x2="560.78" y1="354.50" y2="378.85" class="el"/>
<line x1="560.78" x2="560.78" y1="378.85" y2="403.20" class="er"/>
<line x1="558.48" x2="563.08" y1="354.50" y2="354.50" class="ec"/>
<line x1="558.48" x2="563.08" y1="403.20" y2="403.20" class="eb"/>
<line x1="567.53" x2="567.53" y1="373.30" y2="389.50" class="el"/>
<line x1="567.53" x2="567.53" y1="389.50" y2="405.70" class="er"/>
<line x1="565.23" x2="569.83" y1="373.30" y2="373.30" class="ec"/>
<line x1="565.23" x2="569.83" y1="405.70" y2="405.70" class="eb"/>
<line x1="574.28" x2="574.28" y1="362.20" y2="385.60" class="el"/>
<line x1="574.28" x2="574.28" y1="385.60" y2="409.00" class="er"/>
<line x1="571.98" x2="576.58" y1="362.20" y2="362.20" class="ec"/>
<line x1="571.98" x2="576.58" y1="409.00" y2="409.00" class="eb"/>
<line x1="581.03" x2="581.03" y1="378.50" y2="402.85" class="el"/>
<line x1="581.03" x2="581.03" y1="402.85" y2="427.20" class="er"/>
<line x1="578.73" x2="583.33" y1="378.50" y2="378.50" class="ec"/>
<line x1="578.73" x2="583.33" y1="427.20" y2="427.20" class="eb"/>
<line x1="587.79" x2="587.79" y1="385.00" y2="399.75" class="el"/>
<line x1="587.79" x2="587.79" y1="399.75" y2="414.50" class="er"/>
<line x1="585.49" x2="590.09" y1="385.00" y2="385.00" class="ec"/>
<line x1="585.49" x2="590.09" y1="414.50" y2="414.50" class="eb"/>
<line x1="594.54" x2="594.54" y1="375.30" y2="399.55" class="el"/>
<line x1="594.54" x2="594.54" y1="399.55" y2="423.80" class="er"/>
<line x1="592.24" x2="596.84" y1="375.30" y2="375.30" class="ec"/>
<line x1="592.24" x2="596.84" y1="423.80" y2="423.80" class="eb"/>
<line x1="601.29" x2="601.29" y1="372.00" y2="395.25" class="el"/>
<line x1="601.29" x2="601.29" y1="395.25" y2="418.50" class="er"/>
<line x1="598.99" x2="603.59" y1="372.00" y2="372.00" class="ec"/>
<line x1="598.99" x2="603.59" y1="418.50" y2="418.50" class="eb"/>
<line x1="608.04" x2="608.04" y1="389.20" y2="409.85" class="el"/>
<line x1="608.04" x2="608.04" y1="409.85" y2="430.50" class="er"/>
<line x1="605.74" x2="610.34" y1="389.20" y2="389.20" class="ec"/>
<line x1="605.74" x2="610.34" y1="430.50" y2="430.50" class="eb"/>
<line x1="614.80" x2="614.80" y1="392.00" y2="404.60" class="el"/>
<line x1="614.80" x2="614.80" y1="404.60" y2="417.20" class="er"/>
<line x1="612.50" x2="617.10" y1="392.00" y2="392.00" class="ec"/>
<line x1="612.50" x2="617.10" y1="417.20" y2="417.20" class="eb"/>
<line x1="621.55" x2="621.55" y1="394.00" y2="411.25" class="el"/>
<line x1="621.55" x2="621.55" y1="411.25" y2="428.50" class="er"/>
<line x1="619.25" x2="623.85" y1="394.00" y2="394.00" class="ec"/>
<line x1="619.25" x2="623.85" y1="428.50" y2="428.50" class="eb"/>
<line x1="628.30" x2="628.30" y1="390.50" y2="412.65" class="el"/>
<line x1="628.30" x2="628.30" y1="412.65" y2="434.80" class="er"/>
<line x1="626.00" x2="630.60" y1="390.50" y2="390.50" class="ec"/>
<line x1="626.00" x2="630.60" y1="434.80" y2="434.80" class="eb"/>
<line x1="635.05" x2="635.05" y1="388.80" y2="409.00" class="el"/>
<line x1="635.05" x2="635.05" y1="409.00" y2="429.20" class="er"/>
<line x1="632.75" x2="637.35" y1="388.80" y2="388.80" class="ec"/>
<line x1="632.75" x2="637.35" y1="429.20" y2="429.20" class="eb"/>
<line x1="641.81" x2="641.81" y1="402.50" y2="416.50" class="el"/>
<line x1="641.81" x2="641.81" y1="416.50" y2="430.50" class="er"/>
<line x1="639.51" x2="644.11" y1="402.50" y2="402.50" class="ec"/>
<line x1="639.51" x2="644.11" y1="430.50" y2="430.50" class="eb"/>
<line x1="648.56" x2="648.56" y1="403.20" y2="420.70" class="el"/>
<line x1="648.56" x2="648.56" y1="420.70" y2="438.20" class="er"/>
<line x1="646.26" x2="650.86" y1="403.20" y2="403.20" class="ec"/>
<line x1="646.26" x2="650.86" y1="438.20" y2="438.20" class="eb"/>
<line x1="655.31" x2="655.31" y1="409.80" y2="426.30" class="el"/>
<line x1="655.31" x2="655.31" y1="426.30" y2="442.80" class="er"/>
<line x1="653.01" x2="657.61" y1="409.80" y2="409.80" class="ec"/>
<line x1="653.01" x2="657.61" y1="442.80" y2="442.80" class="eb"/>
<line x1="662.06" x2="662.06" y1="410.50" y2="427.75" class="el"/>
<line x1="662.06" x2="662.06" y1="427.75" y2="445.00" class="er"/>
<line x1="659.76" x2="664.36" y1="410.50" y2="410.50" class="ec"/>
<line x1="659.76" x2="664.36" y1="445.00" y2="445.00" class="eb"/>
<line x1="668.82" x2="668.82" y1="416.50" y2="426.25" class="el"/>
<line x1="668.82" x2="668.82" y1="426.25" y2="436.00" class="er"/>
<line x1="666.52" x2="671.12" y1="416.50" y2="416.50" class="ec"/>
<line x1="666.52" x2="671.12" y1="436.00" y2="436.00" class="eb"/>
<line x1="675.57" x2="675.57" y1="409.50" y2="423.00" class="el"/>
<line x1="675.57" x2="675.57" y1="423.00" y2="436.50" class="er"/>
<line x1="673.27" x2="677.87" y1="409.50" y2="409.50" class="ec"/>
<line x1="673.27" x2="677.87" y1="436.50" y2="436.50" class="eb"/>
<line x1="682.32" x2="682.32" y1="403.00" y2="419.25" class="el"/>
<line x1="682.32" x2="682.32" y1="419.25" y2="435.50" class="er"/>
<line x1="680.02" x2="684.62" y1="403.00" y2="403.00" class="ec"/>
<line x1="680.02" x2="684.62" y1="435.50" y2="435.50" class="eb"/>
<line x1="689.07" x2="689.07" y1="402.50" y2="413.25" class="el"/>
<line x1="689.07" x2="689.07" y1="413.25" y2="424.00" class="er"/>
<line x1="686.77" x2="691.37" y1="402.50" y2="402.50" class="ec"/>
<line x1="686.77" x2="691.37" y1="424.00" y2="424.00" class="eb"/>
<line x1="695.83" x2="695.83" y1="391.30" y2="408.65" class="el"/>
<line x1="695.83" x2="695.83" y1="408.65" y2="426.00" class="er"/>
<line x1="693.53" x2="698.13" y1="391.30" y2="391.30" class="ec"/>
<line x1="693.53" x2="698.13" y1="426.00" y2="426.00" class="eb"/>
<line x1="702.58" x2="702.58" y1="402.00" y2="411.40" class="el"/>
<line x1="702.58" x2="702.58" y1="411.40" y2="420.80" class="er"/>
<line x1="700.28" x2="704.88" y1="402.00" y2="402.00" class="ec"/>
<line x1="700.28" x2="704.88" y1="420.80" y2="420.80" class="eb"/>
<line x1="709.33" x2="709.33" y1="388.40" y2="406.70" class="el"/>
<line x1="709.33" x2="709.33" y1="406.70" y2="425.00" class="er"/>
<line x1="707.03" x2="711.63" y1="388.40" y2="388.40" class="ec"/>
<line x1="707.03" x2="711.63" y1="425.00" y2="425.00" class="eb"/>
<line x1="716.08" x2="716.08" y1="386.40" y2="398.55" class="el"/>
<line x1="716.08" x2="716.08" y1="398.55" y2="410.70" class="er"/>
<line x1="713.78" x2="718.38" y1="386.40" y2="386.40" class="ec"/>
<line x1="713.78" x2="718.38" y1="410.70" y2="410.70" class="eb"/>
<line x1="722.84" x2="722.84" y1="349.60" y2="370.45" class="el"/>
<line x1="722.84" x2="722.84" y1="370.45" y2="391.30" class="er"/>
<line x1="720.54" x2="725.14" y1="349.60" y2="349.60" class="ec"/>
<line x1="720.54" x2="725.14" y1="391.30" y2="391.30" class="eb"/>
<line x1="729.59" x2="729.59" y1="289.50" y2="315.00" class="el"/>
<line x1="729.59" x2="729.59" y1="315.00" y2="340.50" class="er"/>
<line x1="727.29" x2="731.89" y1="289.50" y2="289.50" class="ec"/>
<line x1="727.29" x2="731.89" y1="340.50" y2="340.50" class="eb"/>
<line x1="736.34" x2="736.34" y1="242.40" y2="290.95" class="el"/>
<line x1="736.34" x2="736.34" y1="290.95" y2="339.50" class="er"/>
<line x1="734.04" x2="738.64" y1="242.40" y2="242.40" class="ec"/>
<line x1="734.04" x2="738.64" y1="339.50" y2="339.50" class="eb"/>
<line x1="743.09" x2="743.09" y1="266.30" y2="308.70" class="el"/>
<line x1="743.09" x2="743.09" y1="308.70" y2="351.10" class="er"/>
<line x1="740.79" x2="745.39" y1="266.30" y2="266.30" class="ec"/>
<line x1="740.79" x2="745.39" y1="351.10" y2="351.10" class="eb"/>
<line x1="749.85" x2="749.85" y1="219.50" y2="276.25" class="el"/>
<line x1="749.85" x2="749.85" y1="276.25" y2="333.00" class="er"/>
<line x1="747.55" x2="752.15" y1="219.50" y2="219.50" class="ec"/>
<line x1="747.55" x2="752.15" y1="333.00" y2="333.00" class="eb"/>
<line x1="756.60" x2="756.60" y1="210.50" y2="254.40" class="el"/>
<line x1="756.60" x2="756.60" y1="254.40" y2="298.30" class="er"/>
<line x1="754.30" x2="758.90" y1="210.50" y2="210.50" class="ec"/>
<line x1="754.30" x2="758.90" y1="298.30" y2="298.30" class="eb"/>
<line x1="763.35" x2="763.35" y1="178.30" y2="239.80" class="el"/>
<line x1="763.35" x2="763.35" y1="239.80" y2="301.30" class="er"/>
<line x1="761.05" x2="765.65" y1="178.30" y2="178.30" class="ec"/>
<line x1="761.05" x2="765.65" y1="301.30" y2="301.30" class="eb"/>
<line x1="770.10" x2="770.10" y1="211.30" y2="269.80" class="el"/>
<line x1="770.10" x2="770.10" y1="269.80" y2="328.30" class="er"/>
<line x1="767.80" x2="772.40" y1="211.30" y2="211.30" class="ec"/>
<line x1="767.80" x2="772.40" y1="328.30" y2="328.30" class="eb"/>
<line x1="776.86" x2="776.86" y1="160.80" y2="221.90" class="el"/>
<line x1="776.86" x2="776.86" y1="221.90" y2="283.00" class="er"/>
<line x1="774.56" x2="779.16" y1="160.80" y2="160.80" class="ec"/>
<line x1="774.56" x2="779.16" y1="283.00" y2="283.00" class="eb"/>
<line x1="783.61" x2="783.61" y1="102.20" y2="164.85" class="el"/>
<line x1="783.61" x2="783.61" y1="164.85" y2="227.50" class="er"/>
<line x1="781.31" x2="785.91" y1="102.20" y2="102.20" class="ec"/>
<line x1="781.31" x2="785.91" y1="227.50" y2="227.50" class="eb"/>
<line x1="790.36" x2="790.36" y1="35.80" y2="113.30" class="el"/>
<line x1="790.36" x2="790.36" y1="113.30" y2="190.80" class="er"/>
<line x1="788.06" x2="792.66" y1="35.80" y2="35.80" class="ec"/>
<line x1="788.06" x2="792.66" y1="190.80" y2="190.80" class="eb"/>
<line x1="797.11" x2="797.11" y1="42.20" y2="116.75" class="el"/>
<line x1="797.11" x2="797.11" y1="116.75" y2="191.30" class="er"/>
<line x1="794.81" x2="799.41" y1="42.20" y2="42.20" class="ec"/>
<line x1="794.81" x2="799.41" y1="191.30" y2="191.30" class="eb"/>
<line x1="803.87" x2="803.87" y1="100.50" y2="186.50" class="el"/>
<line x1="803.87" x2="803.87" y1="186.50" y2="272.50" class="er"/>
<line x1="801.57" x2="806.17" y1="100.50" y2="100.50" class="ec"/>
<line x1="801.57" x2="806.17" y1="272.50" y2="272.50" class="eb"/>
<line x1="810.62" x2="810.62" y1="102.80" y2="176.55" class="el"/>
<line x1="810.62" x2="810.62" y1="176.55" y2="250.30" class="er"/>
<line x1="808.32" x2="812.92" y1="102.80" y2="102.80" class="ec"/>
<line x1="808.32" x2="812.92" y1="250.30" y2="250.30" class="eb"/>
<line x1="817.37" x2="817.37" y1="107.00" y2="195.60" class="el"/>
<line x1="817.37" x2="817.37" y1="195.60" y2="284.20" class="er"/>
<line x1="815.07" x2="819.67" y1="107.00" y2="107.00" class="ec"/>
<line x1="815.07" x2="819.67" y1="284.20" y2="284.20" class="eb"/>
<line x1="824.12" x2="824.12" y1="109.50" y2="201.40" class="el"/>
<line x1="824.12" x2="824.12" y1="201.40" y2="293.30" class="er"/>
<line x1="821.82" x2="826.42" y1="109.50" y2="109.50" class="ec"/>
<line x1="821.82" x2="826.42" y1="293.30" y2="293.30" class="eb"/>
<line x1="159" x2="159" y1="32.50" y2="478.00" stroke="#808080" stroke-width="1.6"/>
<line x1="159" x2="827.50" y1="478.00" y2="478.00" stroke="#d9d9d9" stroke-width="1"/>
<line x1="159" x2="827.50" y1="32.50" y2="32.50" stroke="#222" stroke-width="1"/>
<line x1="827.50" x2="827.50" y1="32.50" y2="478.00" stroke="#222" stroke-width="1"/>
<text class="xt" transform="translate(164.38,483.8) rotate(-90)" textLength="26.0" lengthAdjust="spacingAndGlyphs">05-Οκτ</text>
<text class="xt" transform="translate(171.13,483.8) rotate(-90)" textLength="26.0" lengthAdjust="spacingAndGlyphs">06-Οκτ</text>
<text class="xt" transform="translate(177.88,483.8) rotate(-90)" textLength="26.0" lengthAdjust="spacingAndGlyphs">07-Οκτ</text>
<text class="xt" transform="translate(184.63,483.8) rotate(-90)" textLength="26.0" lengthAdjust="spacingAndGlyphs">08-Οκτ</text>
<text class="xt" transform="translate(191.39,483.8) rotate(-90)" textLength="26.0" lengthAdjust="spacingAndGlyphs">09-Οκτ</text>
<text class="xt" transform="translate(198.14,483.8) rotate(-90)" textLength="26.0" lengthAdjust="spacingAndGlyphs">10-Οκτ</text>
<text class="xt" transform="translate(204.89,483.8) rotate(-90)" textLength="26.0" lengthAdjust="spacingAndGlyphs">11-Οκτ</text>
<text class="xt" transform="translate(211.64,483.8) rotate(-90)" textLength="26.0" lengthAdjust="spacingAndGlyphs">12-Οκτ</text>
<text class="xt" transform="translate(218.40,483.8) rotate(-90)" textLength="26.0" lengthAdjust="spacingAndGlyphs">13-Οκτ</text>
<text class="xt" transform="translate(225.15,483.8) rotate(-90)" textLength="26.0" lengthAdjust="spacingAndGlyphs">14-Οκτ</text>
<text class="xt" transform="translate(231.90,483.8) rotate(-90)" textLength="26.0" lengthAdjust="spacingAndGlyphs">15-Οκτ</text>
<text class="xt" transform="translate(238.65,483.8) rotate(-90)" textLength="26.0" lengthAdjust="spacingAndGlyphs">16-Οκτ</text>
<text class="xt" transform="translate(245.41,483.8) rotate(-90)" textLength="26.0" lengthAdjust="spacingAndGlyphs">17-Οκτ</text>
<text class="xt" transform="translate(252.16,483.8) rotate(-90)" textLength="26.0" lengthAdjust="spacingAndGlyphs">18-Οκτ</text>
<text class="xt" transform="translate(258.91,483.8) rotate(-90)" textLength="26.0" lengthAdjust="spacingAndGlyphs">19-Οκτ</text>
<text class="xt" transform="translate(265.66,483.8) rotate(-90)" textLength="26.0" lengthAdjust="spacingAndGlyphs">20-Οκτ</text>
<text class="xt" transform="translate(272.42,483.8) rotate(-90)" textLength="26.0" lengthAdjust="spacingAndGlyphs">21-Οκτ</text>
<text class="xt" transform="translate(279.17,483.8) rotate(-90)" textLength="26.0" lengthAdjust="spacingAndGlyphs">22-Οκτ</text>
<text class="xt" transform="translate(285.92,483.8) rotate(-90)" textLength="26.0" lengthAdjust="spacingAndGlyphs">23-Οκτ</text>
<text class="xt" transform="translate(292.67,483.8) rotate(-90)" textLength="26.0" lengthAdjust="spacingAndGlyphs">24-Οκτ</text>
<text class="xt" transform="translate(299.43,483.8) rotate(-90)" textLength="26.0" lengthAdjust="spacingAndGlyphs">25-Οκτ</text>
<text class="xt" transform="translate(306.18,483.8) rotate(-90)" textLength="26.0" lengthAdjust="spacingAndGlyphs">26-Οκτ</text>
<text class="xt" transform="translate(312.93,483.8) rotate(-90)" textLength="26.0" lengthAdjust="spacingAndGlyphs">27-Οκτ</text>
<text class="xt" transform="translate(319.68,483.8) rotate(-90)" textLength="26.0" lengthAdjust="spacingAndGlyphs">28-Οκτ</text>
<text class="xt" transform="translate(326.44,483.8) rotate(-90)" textLength="26.0" lengthAdjust="spacingAndGlyphs">29-Οκτ</text>
<text class="xt" transform="translate(333.19,483.8) rotate(-90)" textLength="26.0" lengthAdjust="spacingAndGlyphs">30-Οκτ</text>
<text class="xt" transform="translate(339.94,483.8) rotate(-90)" textLength="26.0" lengthAdjust="spacingAndGlyphs">31-Οκτ</text>
<text class="xt" transform="translate(346.69,483.8) rotate(-90)" textLength="27.2" lengthAdjust="spacingAndGlyphs">01-Νοε</text>
<text class="xt" transform="translate(353.45,483.8) rotate(-90)" textLength="27.2" lengthAdjust="spacingAndGlyphs">02-Νοε</text>
<text class="xt" transform="translate(360.20,483.8) rotate(-90)" textLength="27.2" lengthAdjust="spacingAndGlyphs">03-Νοε</text>
<text class="xt" transform="translate(366.95,483.8) rotate(-90)" textLength="27.2" lengthAdjust="spacingAndGlyphs">04-Νοε</text>
<text class="xt" transform="translate(373.70,483.8) rotate(-90)" textLength="27.2" lengthAdjust="spacingAndGlyphs">05-Νοε</text>
<text class="xt" transform="translate(380.46,483.8) rotate(-90)" textLength="27.2" lengthAdjust="spacingAndGlyphs">06-Νοε</text>
<text class="xt" transform="translate(387.21,483.8) rotate(-90)" textLength="27.2" lengthAdjust="spacingAndGlyphs">07-Νοε</text>
<text class="xt" transform="translate(393.96,483.8) rotate(-90)" textLength="27.2" lengthAdjust="spacingAndGlyphs">08-Νοε</text>
<text class="xt" transform="translate(400.71,483.8) rotate(-90)" textLength="27.2" lengthAdjust="spacingAndGlyphs">09-Νοε</text>
<text class="xt" transform="translate(407.47,483.8) rotate(-90)" textLength="27.2" lengthAdjust="spacingAndGlyphs">10-Νοε</text>
<text class="xt" transform="translate(414.22,483.8) rotate(-90)" textLength="27.2" lengthAdjust="spacingAndGlyphs">11-Νοε</text>
<text class="xt" transform="translate(420.97,483.8) rotate(-90)" textLength="27.2" lengthAdjust="spacingAndGlyphs">12-Νοε</text>
<text class="xt" transform="translate(427.72,483.8) rotate(-90)" textLength="27.2" lengthAdjust="spacingAndGlyphs">13-Νοε</text>
<text class="xt" transform="translate(434.48,483.8) rotate(-90)" textLength="27.2" lengthAdjust="spacingAndGlyphs">14-Νοε</text>
<text class="xt" transform="translate(441.23,483.8) rotate(-90)" textLength="27.2" lengthAdjust="spacingAndGlyphs">15-Νοε</text>
<text class="xt" transform="translate(447.98,483.8) rotate(-90)" textLength="27.2" lengthAdjust="spacingAndGlyphs">16-Νοε</text>
<text class="xt" transform="translate(454.73,483.8) rotate(-90)" textLength="27.2" lengthAdjust="spacingAndGlyphs">17-Νοε</text>
<text class="xt" transform="translate(461.49,483.8) rotate(-90)" textLength="27.2" lengthAdjust="spacingAndGlyphs">18-Νοε</text>
<text class="xt" transform="translate(468.24,483.8) rotate(-90)" textLength="27.2" lengthAdjust="spacingAndGlyphs">19-Νοε</text>
<text class="xt" transform="translate(474.99,483.8) rotate(-90)" textLength="27.2" lengthAdjust="spacingAndGlyphs">20-Νοε</text>
<text class="xt" transform="translate(481.74,483.8) rotate(-90)" textLength="27.2" lengthAdjust="spacingAndGlyphs">21-Νοε</text>
<text class="xt" transform="translate(488.50,483.8) rotate(-90)" textLength="27.2" lengthAdjust="spacingAndGlyphs">22-Νοε</text>
<text class="xt" transform="translate(495.25,483.8) rotate(-90)" textLength="27.2" lengthAdjust="spacingAndGlyphs">23-Νοε</text>
<text class="xt" transform="translate(502.00,483.8) rotate(-90)" textLength="27.2" lengthAdjust="spacingAndGlyphs">24-Νοε</text>
<text class="xt" transform="translate(508.76,483.8) rotate(-90)" textLength="27.2" lengthAdjust="spacingAndGlyphs">25-Νοε</text>
<text class="xt" transform="translate(515.51,483.8) rotate(-90)" textLength="27.2" lengthAdjust="spacingAndGlyphs">26-Νοε</text>
<text class="xt" transform="translate(522.26,483.8) rotate(-90)" textLength="27.2" lengthAdjust="spacingAndGlyphs">27-Νοε</text>
<text class="xt" transform="translate(529.01,483.8) rotate(-90)" textLength="27.2" lengthAdjust="spacingAndGlyphs">28-Νοε</text>
<text class="xt" transform="translate(535.77,483.8) rotate(-90)" textLength="27.2" lengthAdjust="spacingAndGlyphs">29-Νοε</text>
<text class="xt" transform="translate(542.52,483.8) rotate(-90)" textLength="27.2" lengthAdjust="spacingAndGlyphs">30-Νοε</text>
<text class="xt" transform="translate(549.27,483.8) rotate(-90)" textLength="26.0" lengthAdjust="spacingAndGlyphs">01-Δεκ</text>
<text class="xt" transform="translate(556.02,483.8) rotate(-90)" textLength="26.0" lengthAdjust="spacingAndGlyphs">02-Δεκ</text>
<text class="xt" transform="translate(562.78,483.8) rotate(-90)" textLength="26.0" lengthAdjust="spacingAndGlyphs">03-Δεκ</text>
<text class="xt" transform="translate(569.53,483.8) rotate(-90)" textLength="26.0" lengthAdjust="spacingAndGlyphs">04-Δεκ</text>
<text class="xt" transform="translate(576.28,483.8) rotate(-90)" textLength="26.0" lengthAdjust="spacingAndGlyphs">05-Δεκ</text>
<text class="xt" transform="translate(583.03,483.8) rotate(-90)" textLength="26.0" lengthAdjust="spacingAndGlyphs">06-Δεκ</text>
<text class="xt" transform="translate(589.79,483.8) rotate(-90)" textLength="26.0" lengthAdjust="spacingAndGlyphs">07-Δεκ</text>
<text class="xt" transform="translate(596.54,483.8) rotate(-90)" textLength="26.0" lengthAdjust="spacingAndGlyphs">08-Δεκ</text>
<text class="xt" transform="translate(603.29,483.8) rotate(-90)" textLength="26.0" lengthAdjust="spacingAndGlyphs">09-Δεκ</text>
<text class="xt" transform="translate(610.04,483.8) rotate(-90)" textLength="26.0" lengthAdjust="spacingAndGlyphs">10-Δεκ</text>
<text class="xt" transform="translate(616.80,483.8) rotate(-90)" textLength="26.0" lengthAdjust="spacingAndGlyphs">11-Δεκ</text>
<text class="xt" transform="translate(623.55,483.8) rotate(-90)" textLength="26.0" lengthAdjust="spacingAndGlyphs">12-Δεκ</text>
<text class="xt" transform="translate(630.30,483.8) rotate(-90)" textLength="26.0" lengthAdjust="spacingAndGlyphs">13-Δεκ</text>
<text class="xt" transform="translate(637.05,483.8) rotate(-90)" textLength="26.0" lengthAdjust="spacingAndGlyphs">14-Δεκ</text>
<text class="xt" transform="translate(643.81,483.8) rotate(-90)" textLength="26.0" lengthAdjust="spacingAndGlyphs">15-Δεκ</text>
<text class="xt" transform="translate(650.56,483.8) rotate(-90)" textLength="26.0" lengthAdjust="spacingAndGlyphs">16-Δεκ</text>
<text class="xt" transform="translate(657.31,483.8) rotate(-90)" textLength="26.0" lengthAdjust="spacingAndGlyphs">17-Δεκ</text>
<text class="xt" transform="translate(664.06,483.8) rotate(-90)" textLength="26.0" lengthAdjust="spacingAndGlyphs">18-Δεκ</text>
<text class="xt" transform="translate(670.82,483.8) rotate(-90)" textLength="26.0" lengthAdjust="spacingAndGlyphs">19-Δεκ</text>
<text class="xt" transform="translate(677.57,483.8) rotate(-90)" textLength="26.0" lengthAdjust="spacingAndGlyphs">20-Δεκ</text>
<text class="xt" transform="translate(684.32,483.8) rotate(-90)" textLength="26.0" lengthAdjust="spacingAndGlyphs">21-Δεκ</text>
<text class="xt" transform="translate(691.07,483.8) rotate(-90)" textLength="26.0" lengthAdjust="spacingAndGlyphs">22-Δεκ</text>
<text class="xt" transform="translate(697.83,483.8) rotate(-90)" textLength="26.0" lengthAdjust="spacingAndGlyphs">23-Δεκ</text>
<text class="xt" transform="translate(704.58,483.8) rotate(-90)" textLength="26.0" lengthAdjust="spacingAndGlyphs">24-Δεκ</text>
<text class="xt" transform="translate(711.33,483.8) rotate(-90)" textLength="26.0" lengthAdjust="spacingAndGlyphs">25-Δεκ</text>
<text class="xt" transform="translate(718.08,483.8) rotate(-90)" textLength="26.0" lengthAdjust="spacingAndGlyphs">26-Δεκ</text>
<text class="xt" transform="translate(724.84,483.8) rotate(-90)" textLength="26.0" lengthAdjust="spacingAndGlyphs">27-Δεκ</text>
<text class="xt" transform="translate(731.59,483.8) rotate(-90)" textLength="26.0" lengthAdjust="spacingAndGlyphs">28-Δεκ</text>
<text class="xt" transform="translate(738.34,483.8) rotate(-90)" textLength="26.0" lengthAdjust="spacingAndGlyphs">29-Δεκ</text>
<text class="xt" transform="translate(745.09,483.8) rotate(-90)" textLength="26.0" lengthAdjust="spacingAndGlyphs">30-Δεκ</text>
<text class="xt" transform="translate(751.85,483.8) rotate(-90)" textLength="26.0" lengthAdjust="spacingAndGlyphs">31-Δεκ</text>
<text class="xt" transform="translate(758.60,483.8) rotate(-90)" textLength="24.6" lengthAdjust="spacingAndGlyphs">01-Ιαν</text>
<text class="xt" transform="translate(765.35,483.8) rotate(-90)" textLength="24.6" lengthAdjust="spacingAndGlyphs">02-Ιαν</text>
<text class="xt" transform="translate(772.10,483.8) rotate(-90)" textLength="24.6" lengthAdjust="spacingAndGlyphs">03-Ιαν</text>
<text class="xt" transform="translate(778.86,483.8) rotate(-90)" textLength="24.6" lengthAdjust="spacingAndGlyphs">04-Ιαν</text>
<text class="xt" transform="translate(785.61,483.8) rotate(-90)" textLength="24.6" lengthAdjust="spacingAndGlyphs">05-Ιαν</text>
<text class="xt" transform="translate(792.36,483.8) rotate(-90)" textLength="24.6" lengthAdjust="spacingAndGlyphs">06-Ιαν</text>
<text class="xt" transform="translate(799.11,483.8) rotate(-90)" textLength="24.6" lengthAdjust="spacingAndGlyphs">07-Ιαν</text>
<text class="xt" transform="translate(805.87,483.8) rotate(-90)" textLength="24.6" lengthAdjust="spacingAndGlyphs">08-Ιαν</text>
<text class="xt" transform="translate(812.62,483.8) rotate(-90)" textLength="24.6" lengthAdjust="spacingAndGlyphs">09-Ιαν</text>
<text class="xt" transform="translate(819.37,483.8) rotate(-90)" textLength="24.6" lengthAdjust="spacingAndGlyphs">10-Ιαν</text>
<text class="xt" transform="translate(826.12,483.8) rotate(-90)" textLength="24.6" lengthAdjust="spacingAndGlyphs">11-Ιαν</text>
<text class="tt" x="471.4" y="556" textLength="94" lengthAdjust="spacingAndGlyphs">Ημερομηνία</text>
<text class="tw" transform="translate(100.6,417.60) rotate(-90)" textLength="62.00" lengthAdjust="spacingAndGlyphs">Σχετικός</text>
<text class="tw" transform="translate(100.6,351.30) rotate(-90)" textLength="57.40" lengthAdjust="spacingAndGlyphs">Ρυθμός</text>
<text class="tw" transform="translate(100.6,293.30) rotate(-90)" textLength="71.00" lengthAdjust="spacingAndGlyphs">Έκκρισης</text>
<text class="tw" transform="translate(100.6,218.30) rotate(-90)" textLength="36.80" lengthAdjust="spacingAndGlyphs">Ικού</text>
<text class="tw" transform="translate(100.6,176.60) rotate(-90)" textLength="65.30" lengthAdjust="spacingAndGlyphs">Φορτίου</text>
</svg>
</body></html>
